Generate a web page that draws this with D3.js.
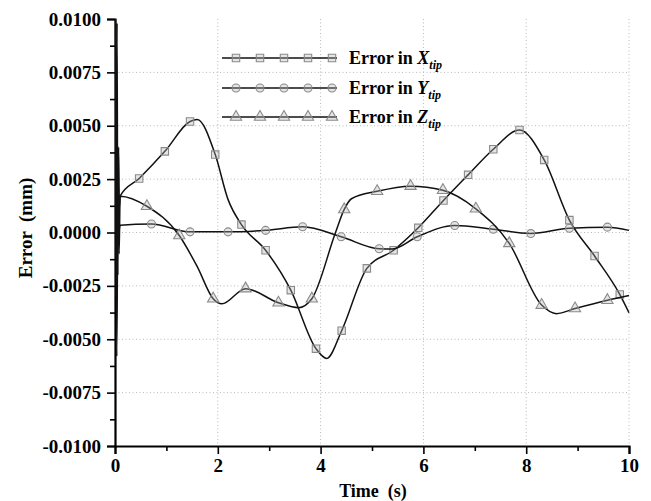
<!DOCTYPE html>
<html>
<head>
<meta charset="utf-8">
<script src="https://cdn.jsdelivr.net/npm/d3@7"></script>
<style>
  body { margin: 0; background: #fff; }
  svg text { font-family: "Liberation Serif", "Times New Roman", serif; font-weight: bold; fill: #000; }
</style>
</head>
<body>
<div id="chart"></div>
<script>
// data: [time (s), error (mm)]
let xTip = [
    [0.01, 0.0100], [0.025, -0.0030], [0.04, 0.0098], [0.055, -0.0020], [0.07, 0.0040], [0.085, 0.0012], [0.1, 0.0017],
    [0.47, 0.00253], [0.97, 0.0038], [1.46, 0.0052], [1.6, 0.00529], [1.95, 0.00365], [2.2, 0.00154],
    [2.46, 0.00037], [2.93, -0.00083], [3.42, -0.0027], [3.91, -0.00544], [4.12, -0.0059], [4.41, -0.0046],
    [4.9, -0.00168], [5.42, -0.00083], [5.9, 0.00022], [6.39, 0.0015], [6.87, 0.0027], [7.36, 0.0039],
    [7.87, 0.0048], [8.35, 0.0034], [8.84, 0.00058], [9.33, -0.0011], [9.82, -0.0029], [10, -0.00376]
];
let yTip = [
    [0.02, 0.0008], [0.05, -0.0004], [0.1, 0.00034], [0.71, 0.0004], [1.46, 0.00003], [2.2, 0.00003],
    [2.93, 0.0001], [3.65, 0.00027], [4.4, -0.0002], [5.14, -0.00076], [5.4, -0.00077], [5.88, -0.0002],
    [6.61, 0.00033], [7.36, 0.00015], [8.09, -0.00005], [8.84, 0.0002], [9.58, 0.00025], [10, 0.0001]
];
let zTip = [
    [0.015, 0.0040], [0.035, -0.0058], [0.06, 0.0030], [0.08, -0.0010], [0.1, 0.0017],
    [0.62, 0.00123], [1.25, -0.00014], [1.6, -0.0016], [1.91, -0.0031], [2.08, -0.00334], [2.54, -0.00263],
    [3.18, -0.00329], [3.57, -0.00352], [3.83, -0.0031], [4.29, 0.0], [4.46, 0.00108], [4.6, 0.00158],
    [5.1, 0.00193], [5.75, 0.00217], [6.38, 0.00198], [7.02, 0.00111], [7.67, -0.00051], [8.3, -0.0034],
    [8.59, -0.0038], [8.95, -0.00356], [9.58, -0.00317], [10, -0.00295]
];

// times where the symbols sit on each curve
let xTipMarks = [0.47, 0.97, 1.46, 1.95, 2.46, 2.93, 3.42, 3.91, 4.41, 4.9, 5.42, 5.9, 6.39, 6.87, 7.36, 7.87, 8.35, 8.84, 9.33, 9.82];
let yTipMarks = [0.71, 1.46, 2.2, 2.93, 3.65, 4.4, 5.14, 5.88, 6.61, 7.36, 8.09, 8.84, 9.58];
let zTipMarks = [0.62, 1.25, 1.91, 2.54, 3.18, 3.83, 4.46, 5.1, 5.75, 6.38, 7.02, 7.67, 8.3, 8.95, 9.58];

let xTicks = [0, 2, 4, 6, 8, 10];
let yTicks = [-0.01, -0.0075, -0.005, -0.0025, 0, 0.0025, 0.005, 0.0075, 0.01];
let legendNames = ["X", "Y", "Z"];

const W = 651, H = 501;
const margin = {left: 115, top: 19, right: 22, bottom: 55};

var svg = d3.select("#chart").append("svg").attr("width", W).attr("height", H);

var x = d3.scaleLinear().domain([0, 10]).range([margin.left, W - margin.right]);
var y = d3.scaleLinear().domain([-0.01, 0.01]).range([H - margin.bottom, margin.top]);

// dotted grid
let grid = svg.append("g").attr("stroke", "#b8b8b8").attr("stroke-width", 1).attr("stroke-dasharray", "1,2.5");
grid.selectAll(".gx").data(xTicks.filter(d => d > 0)).enter().append("line")
    .attr("x1", d => x(d)).attr("x2", d => x(d)).attr("y1", y(0.01)).attr("y2", y(-0.01));
grid.selectAll(".gy").data(yTicks.filter(d => d > -0.01 && d < 0.01)).enter().append("line")
    .attr("x1", x(0)).attr("x2", x(10)).attr("y1", d => y(d)).attr("y2", d => y(d));

// axes
let fmtY = d => d3.format(".4f")(d).replace("\u2212", "-");
let xAxis = svg.append("g").attr("transform", `translate(0,${y(-0.01)})`)
    .call(d3.axisBottom(x).tickValues(xTicks).tickFormat(d3.format("d")).tickSize(8).tickPadding(5));
svg.append("g").attr("transform", `translate(0,${y(-0.01)})`)
    .call(d3.axisBottom(x).tickValues(d3.range(1, 10, 2)).tickFormat("").tickSize(5))
    .select(".domain").remove();
let yAxis = svg.append("g").attr("transform", `translate(${x(0)},0)`)
    .call(d3.axisLeft(y).tickValues(yTicks).tickFormat(fmtY).tickSize(8).tickPadding(6));
svg.append("g").attr("transform", `translate(${x(0)},0)`)
    .call(d3.axisLeft(y).tickValues(d3.range(-0.00875, 0.01, 0.0025)).tickFormat("").tickSize(5))
    .select(".domain").remove();

svg.selectAll(".domain").attr("stroke", "#000").attr("stroke-width", 2.2);
svg.selectAll(".tick line").attr("stroke", "#000").attr("stroke-width", 1.6);
xAxis.selectAll("text").style("font-size", "19px");
yAxis.selectAll("text").style("font-size", "19px");

// curves
let line = d3.line().x(d => x(d[0])).y(d => y(d[1])).curve(d3.curveMonotoneX);
let series = [
    {data: xTip, marks: xTipMarks, shape: d3.symbolSquare, size: 55},
    {data: yTip, marks: yTipMarks, shape: d3.symbolCircle, size: 50},
    {data: zTip, marks: zTipMarks, shape: d3.symbolTriangle, size: 55}
];

series.forEach(s => {
    svg.append("path").datum(s.data).attr("d", line)
        .attr("fill", "none").attr("stroke", "#111").attr("stroke-width", 1.5);
    let pts = s.marks.map(t => s.data.find(p => p[0] === t));
    svg.selectAll(null).data(pts).enter().append("path")
        .attr("d", d3.symbol().type(s.shape).size(s.size))
        .attr("transform", d => `translate(${x(d[0])},${y(d[1])})`)
        .attr("fill", "rgba(180,180,180,0.35)").attr("stroke", "#8a8a8a").attr("stroke-width", 1.1);
});

// legend
let legRows = [58, 88, 117];
series.forEach((s, i) => {
    let g = svg.append("g").attr("transform", `translate(0,${legRows[i]})`);
    g.append("line").attr("x1", 222).attr("x2", 337).attr("stroke", "#111").attr("stroke-width", 1.5);
    g.selectAll(null).data([236, 260, 284, 308, 332]).enter().append("path")
        .attr("d", d3.symbol().type(s.shape).size(s.size))
        .attr("transform", d => `translate(${d},0)`)
        .attr("fill", "rgba(180,180,180,0.35)").attr("stroke", "#8a8a8a").attr("stroke-width", 1.1);
    let t = g.append("text").attr("x", 349).attr("y", 6).style("font-size", "18px");
    t.append("tspan").text("Error in ");
    t.append("tspan").style("font-style", "italic").text(legendNames[i]);
    t.append("tspan").style("font-style", "italic").style("font-size", "12px").attr("dy", 5).text("tip");
});

// axis titles
svg.append("text").attr("x", 373).attr("y", 497).attr("text-anchor", "middle")
    .style("font-size", "18px").style("white-space", "pre").text("Time  (s)");
svg.append("text").attr("transform", "translate(32,228) rotate(-90)").attr("text-anchor", "middle")
    .style("font-size", "19px").style("white-space", "pre").text("Error  (mm)");
</script>
</body>
</html>
